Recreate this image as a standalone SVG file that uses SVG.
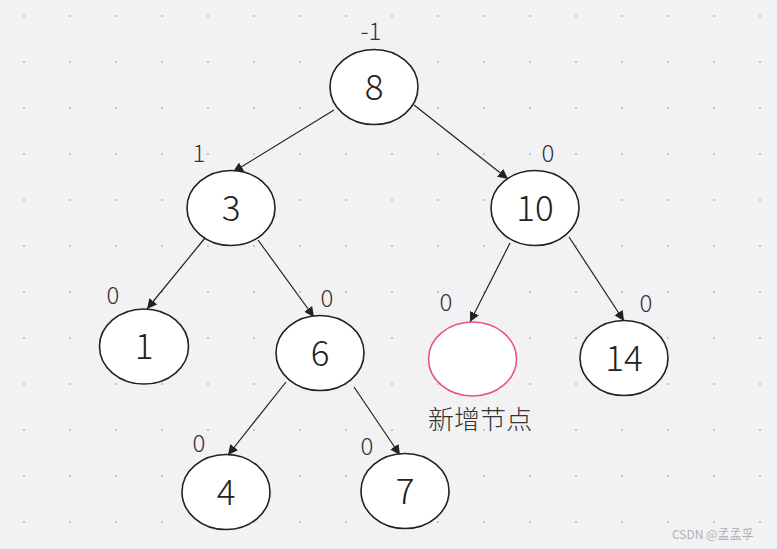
<svg xmlns="http://www.w3.org/2000/svg" width="777" height="549" viewBox="0 0 777 549">
<defs>
<pattern id="dots" x="0" y="0" width="46" height="46" patternUnits="userSpaceOnUse">
<rect x="23" y="15" width="2" height="2" fill="#c6c6ca"/>
</pattern>
<marker id="arr" viewBox="0 0 10 10" refX="10" refY="5" markerWidth="10" markerHeight="10" markerUnits="userSpaceOnUse" orient="auto">
<path d="M0,0 L10,5 L0,10 z" fill="#222"/>
</marker>
<style>
.n{fill:#fff;stroke:#222;stroke-width:1.6}
.new{fill:#fff;stroke:#f0507a;stroke-width:1.6}
.t{font-family:"Noto Sans CJK SC","Noto Sans",sans-serif;font-weight:300;font-size:35px;fill:#222;text-anchor:middle}
.l{font-family:"Noto Sans CJK SC","Noto Sans",sans-serif;font-weight:300;font-size:24px;fill:#333;text-anchor:middle}
.c{font-family:"Noto Sans CJK SC","Noto Sans",sans-serif;font-weight:300;font-size:26px;fill:#333;text-anchor:middle}
.e{stroke:#222;stroke-width:1.2;fill:none;marker-end:url(#arr)}
.w{font-family:"Noto Sans CJK SC","Noto Sans",sans-serif;font-size:12px;fill:#b0b0b4}
</style>
</defs>
<rect width="777" height="549" fill="#f2f2f4"/>
<rect width="777" height="549" fill="url(#dots)"/>
<g id="connectors">
<line class="e" x1="334" y1="110" x2="233" y2="172"/>
<line class="e" x1="414" y1="105" x2="508" y2="179"/>
<line class="e" x1="205" y1="238" x2="147" y2="309"/>
<line class="e" x1="258" y1="240" x2="314" y2="317"/>
<line class="e" x1="510" y1="243" x2="470" y2="322"/>
<line class="e" x1="569" y1="237" x2="624" y2="321"/>
<line class="e" x1="286" y1="382" x2="228" y2="455"/>
<line class="e" x1="354" y1="387" x2="400" y2="455"/>
</g>
<g id="node8"><ellipse class="n" cx="374" cy="87" rx="44" ry="37.5"/><text class="t" x="374" y="100">8</text><text class="l" x="371" y="40">-1</text></g>
<g id="node3"><ellipse class="n" cx="231" cy="208" rx="44" ry="37.5"/><text class="t" x="231" y="221">3</text><text class="l" x="199" y="162">1</text></g>
<g id="node10"><ellipse class="n" cx="535" cy="208" rx="44" ry="37.5"/><text class="t" x="535" y="221">10</text><text class="l" x="548" y="162">0</text></g>
<g id="node1"><ellipse class="n" cx="144" cy="346.5" rx="44.5" ry="37.5"/><text class="t" x="144" y="359">1</text><text class="l" x="113" y="304">0</text></g>
<g id="node6"><ellipse class="n" cx="320" cy="353" rx="44" ry="37.5"/><text class="t" x="320" y="366">6</text><text class="l" x="327" y="307">0</text></g>
<g id="nodeNew"><ellipse class="new" cx="472.5" cy="359" rx="44" ry="37"/><text class="l" x="446" y="311">0</text><text class="c" x="480" y="429">新增节点</text></g>
<g id="node14"><ellipse class="n" cx="624" cy="358" rx="44" ry="37.5"/><text class="t" x="624" y="371">14</text><text class="l" x="646" y="312">0</text></g>
<g id="node4"><ellipse class="n" cx="226" cy="492" rx="44" ry="37.5"/><text class="t" x="226" y="505">4</text><text class="l" x="199" y="452">0</text></g>
<g id="node7"><ellipse class="n" cx="405" cy="491" rx="44" ry="37.5"/><text class="t" x="405" y="504">7</text><text class="l" x="367" y="455">0</text></g>
<text class="w" x="672" y="539">CSDN @孟孟孚</text>
</svg>
